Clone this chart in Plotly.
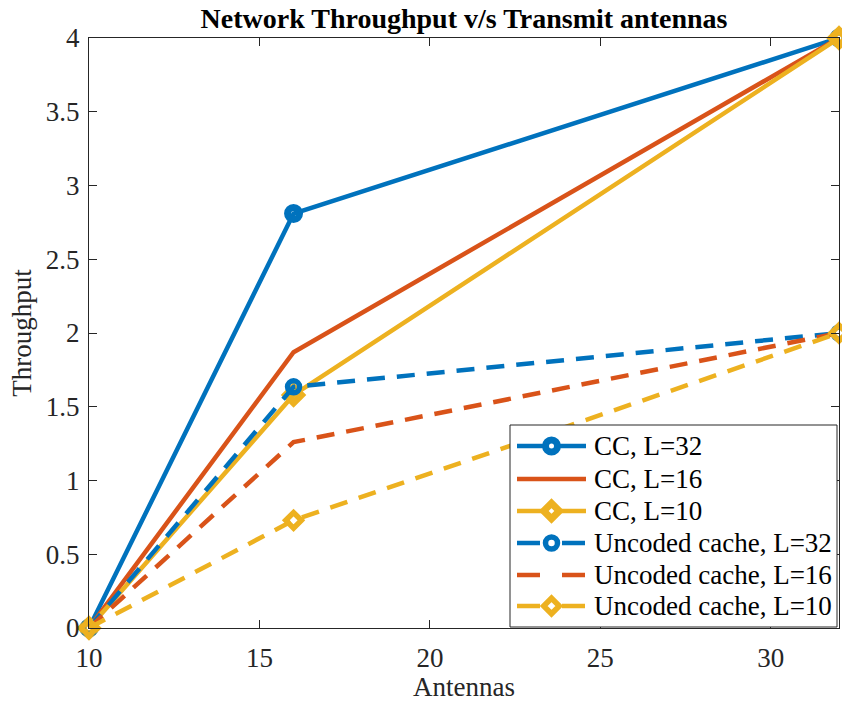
import plotly.graph_objects as go

antennas = [10, 16, 32]
cc_l32 = [0, 2.81, 4.0]
cc_l16 = [0, 1.87, 4.0]
cc_l10 = [0, 1.58, 4.0]
unc_l32 = [0, 1.635, 2.0]
unc_l16 = [0, 1.26, 2.0]
unc_l10 = [0, 0.73, 2.0]

series_names = ["CC, L=32", "CC, L=16", "CC, L=10",
                "Uncoded cache, L=32", "Uncoded cache, L=16", "Uncoded cache, L=10"]

x_ticks = [10, 15, 20, 25, 30]
y_ticks = [0, 0.5, 1, 1.5, 2, 2.5, 3, 3.5, 4]
y_tick_labels = ["0", "0.5", "1", "1.5", "2", "2.5", "3", "3.5", "4"]

BLUE = "#0072BD"
ORANGE = "#D95319"
YELLOW = "#EDB120"
FONT = "Liberation Serif, Times New Roman, serif"
AX = "#262626"
FS = 27

W, H = 842, 703
ML, MR, MT, MB = 89, 3, 38, 75
PW, PH = W - ML - MR, H - MT - MB

# (values, colour, dash, marker symbol, marker size, marker edge width)
styles = [
    (cc_l32, BLUE, "solid", "circle", 12, 7),
    (cc_l16, ORANGE, "solid", None, 0, 0),
    (cc_l10, YELLOW, "solid", "diamond", 12, 7),
    (unc_l32, BLUE, "18px,12px", "circle", 12, 5.5),
    (unc_l16, ORANGE, "18px,12px", None, 0, 0),
    (unc_l10, YELLOW, "18px,12px", "diamond", 12, 5.5),
]

fig = go.Figure()
for name, (vals, col, dash, sym, msize, mlw) in zip(series_names, styles):
    kw = dict(mode="lines")
    if sym:
        kw = dict(mode="lines+markers",
                  marker=dict(symbol=sym + "-open", size=msize, color=col,
                              line=dict(color=col, width=mlw)))
    fig.add_trace(go.Scatter(x=antennas, y=vals, name=name, showlegend=False,
                             line=dict(color=col, width=4.5, dash=dash),
                             cliponaxis=False, **kw))


# ---- pixel helpers for placing items in paper space ----
def px(x):
    return (x - ML) / PW


def py(y):
    return (H - MB - y) / PH


shapes = []
annotations = []

# legend box
box_l, box_r, box_t, box_b = 510, 837, 425, 627
shapes.append(dict(type="rect", xref="paper", yref="paper", layer="above",
                   x0=px(box_l), x1=px(box_r), y0=py(box_b), y1=py(box_t),
                   fillcolor="white", line=dict(color=AX, width=1)))
row_y = [446, 479, 511, 543, 575, 606]
key_x0, key_x1, key_c, text_x = 517, 586, 551.5, 592
legend_dash = {"solid": "solid", "18px,12px": "23px,22px"}
for name, (vals, col, dash, sym, msize, mlw), ry in zip(series_names, styles, row_y):
    shapes.append(dict(type="line", xref="paper", yref="paper", layer="above",
                       x0=px(key_x0), x1=px(key_x1), y0=py(ry), y1=py(ry),
                       line=dict(color=col, width=4.5, dash=legend_dash[dash])))
    if sym == "circle":
        r = msize / 2
        shapes.append(dict(type="circle", xref="paper", yref="paper", layer="above",
                           x0=px(key_c - r), x1=px(key_c + r),
                           y0=py(ry + r), y1=py(ry - r),
                           fillcolor="white", line=dict(color=col, width=mlw)))
    elif sym == "diamond":
        d = msize / 2 * 1.3
        path = (f"M {px(key_c - d)},{py(ry)} L {px(key_c)},{py(ry - d)} "
                f"L {px(key_c + d)},{py(ry)} L {px(key_c)},{py(ry + d)} Z")
        shapes.append(dict(type="path", xref="paper", yref="paper", layer="above",
                           path=path, fillcolor="white",
                           line=dict(color=col, width=mlw)))
    annotations.append(dict(text=name, xref="paper", yref="paper",
                            x=px(text_x), y=py(ry), xanchor="left", yanchor="middle",
                            showarrow=False,
                            font=dict(family=FONT, size=FS, color="black")))

# x-axis title, placed below the tick labels
annotations.append(dict(text="Antennas", xref="paper", yref="paper",
                        x=0.5, y=py(687), xanchor="center", yanchor="middle",
                        showarrow=False,
                        font=dict(family=FONT, size=FS, color=AX)))

fig.update_layout(
    width=W, height=H,
    margin=dict(l=ML, r=MR, t=MT, b=MB),
    plot_bgcolor="white", paper_bgcolor="white",
    font=dict(family=FONT, size=FS, color=AX),
    title=dict(text="<b>Network Throughput v/s Transmit antennas</b>",
               xref="paper", x=0.5, xanchor="center", y=0.974, yanchor="middle",
               font=dict(family=FONT, size=28, color="black")),
    showlegend=False,
    shapes=shapes,
    annotations=annotations,
)
fig.update_xaxes(range=[10, 32], tickvals=x_ticks,
                 ticks="inside", ticklen=8, tickcolor=AX, tickwidth=1,
                 showline=True, linecolor=AX, linewidth=1, mirror="allticks",
                 showgrid=False, zeroline=False, ticklabelstandoff=6,
                 tickfont=dict(family=FONT, size=FS, color=AX))
fig.update_yaxes(range=[0, 4], tickvals=y_ticks, ticktext=y_tick_labels,
                 ticks="inside", ticklen=8, tickcolor=AX, tickwidth=1,
                 showline=True, linecolor=AX, linewidth=1, mirror="allticks",
                 showgrid=False, zeroline=False, ticklabelstandoff=3,
                 title=dict(text="Throughput", standoff=6,
                            font=dict(family=FONT, size=FS, color=AX)),
                 tickfont=dict(family=FONT, size=FS, color=AX))

fig.write_html("out.html")
